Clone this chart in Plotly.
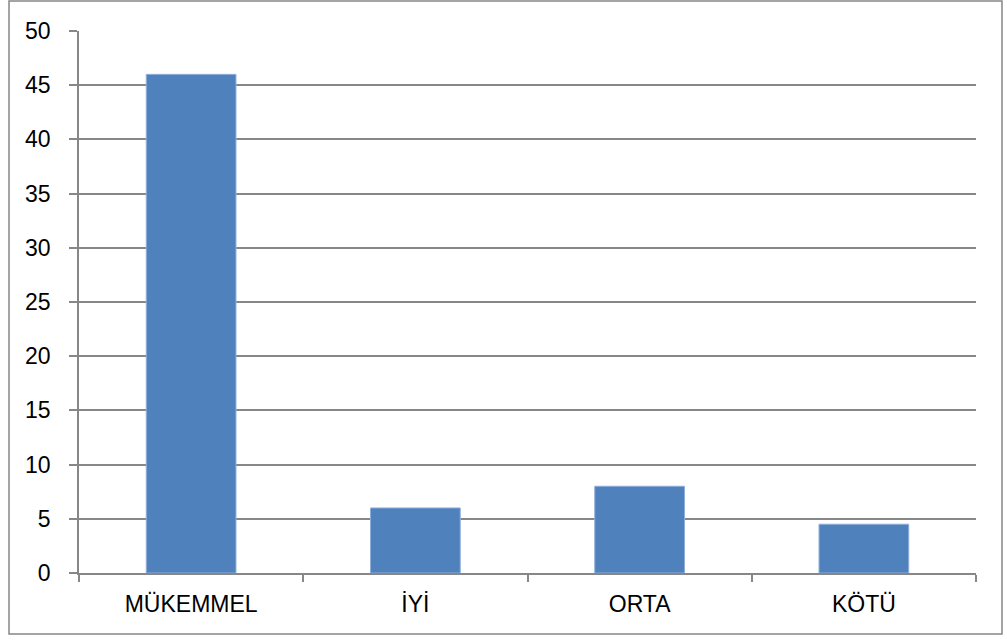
import plotly.graph_objects as go

categories = ["MÜKEMMEL", "İYİ", "ORTA", "KÖTÜ"]
values = [46, 6, 8, 4.5]
y_ticks = [0, 5, 10, 15, 20, 25, 30, 35, 40, 45, 50]

W, H = 1007, 643
ML, MR, MT, MB = 79, 31, 31, 70
pw, ph = W - ML - MR, H - MT - MB

grid = "#878787"
font = dict(family="Liberation Sans, Arial, sans-serif", size=23, color="#000000")

fig = go.Figure(
    go.Bar(
        x=categories,
        y=values,
        marker=dict(color="#4F81BD", line=dict(color="#8EAEDB", width=1)),
        width=0.4,
        hoverinfo="x+y",
    )
)

# outer chart frame, in pixel units converted to paper coordinates
def px_x(v):
    return (v - ML) / pw

def px_y(v):
    return (H - MB - v) / ph

fig.add_shape(
    type="rect", xref="paper", yref="paper",
    x0=px_x(9), x1=px_x(1002), y0=px_y(634), y1=px_y(1),
    line=dict(color="#868686", width=1.5), fillcolor="rgba(0,0,0,0)",
    layer="below",
)

fig.update_layout(
    width=W, height=H,
    margin=dict(l=ML, r=MR, t=MT, b=MB, pad=0),
    paper_bgcolor="white", plot_bgcolor="white",
    font=font,
    showlegend=False,
    xaxis=dict(
        type="category",
        tickson="boundaries",
        ticks="outside", ticklen=7, tickcolor=grid, tickwidth=1.5,
        showgrid=False,
        showline=True, linecolor=grid, linewidth=1.5,
        tickfont=font,
        ticklabelstandoff=10,
        range=[-0.5, 3.5],
    ),
    yaxis=dict(
        range=[0, 50],
        tickvals=y_ticks,
        ticks="outside", ticklen=8, tickcolor=grid, tickwidth=1.5,
        showgrid=True, gridcolor=grid, gridwidth=1.5,
        showline=True, linecolor=grid, linewidth=1.5,
        zeroline=False,
        tickfont=font,
        ticklabelstandoff=14,
    ),
)

fig.write_html("out.html")
